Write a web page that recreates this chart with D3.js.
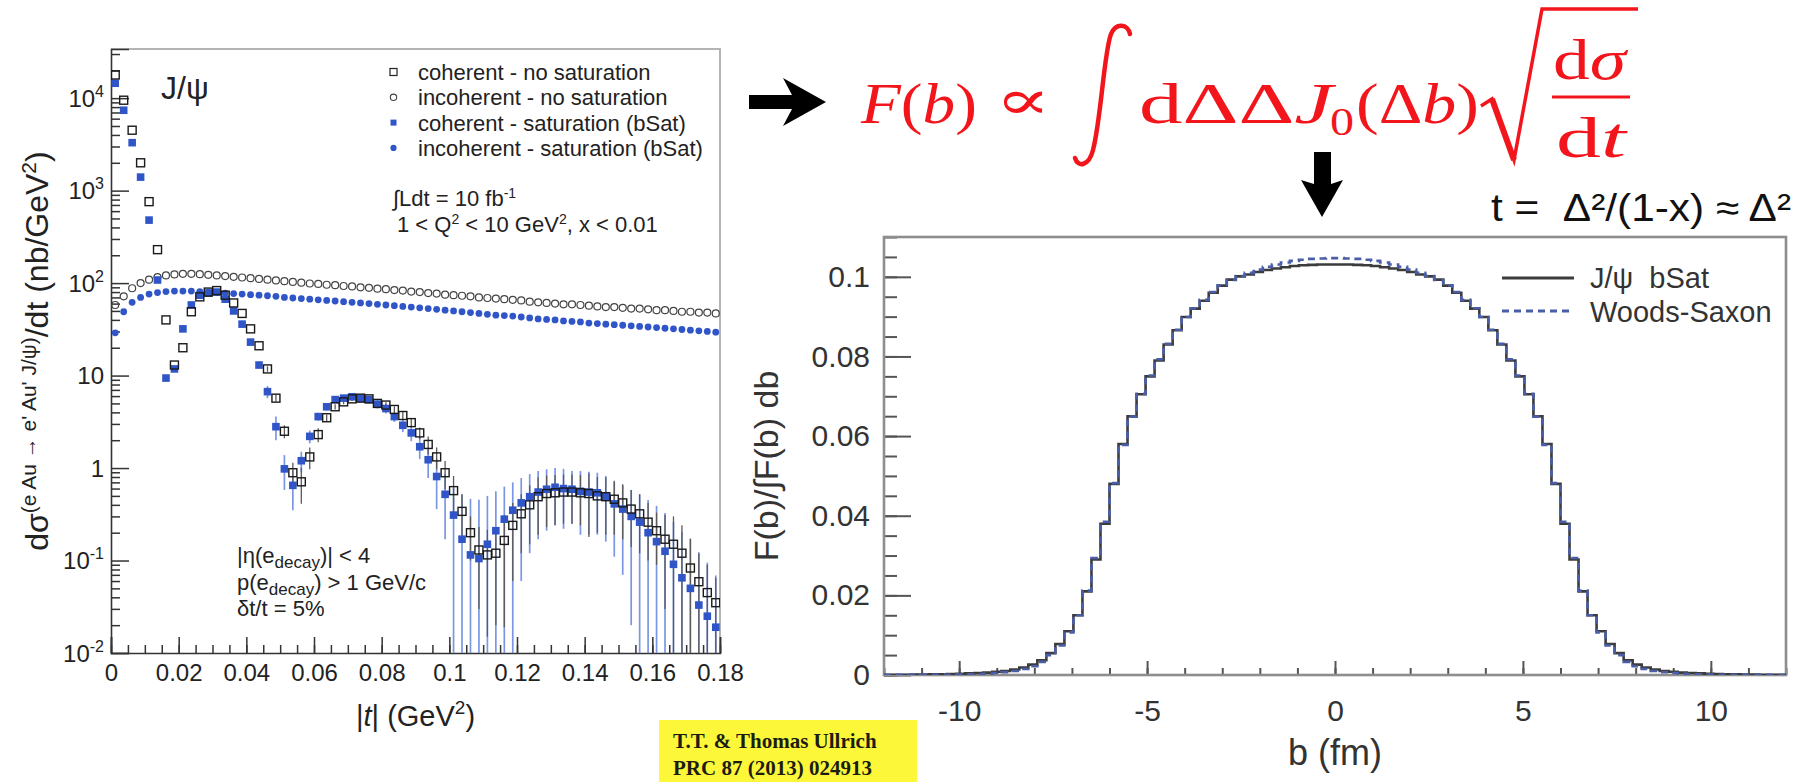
<!DOCTYPE html>
<html>
<head>
<meta charset="utf-8">
<script src="https://cdn.jsdelivr.net/npm/d3@7"></script>
<style>
  body { margin: 0; background: #fff; }
  svg { display: block; font-family: "Liberation Sans", Arial, Helvetica, sans-serif; }
</style>
</head>
<body>
<svg id="fig" width="1800" height="782"></svg>
<script>
// ---------- |t| spectrum, bins of 0.0025 GeV^2 starting at 0 ----------
const T_BIN = 0.0025;

const coherentNoSat = [
  17800, 9500, 4500, 2000, 760, 230, 40, 13, 20, 49,
  71, 80, 83, 74, 61, 47, 32, 21, 11.8, 5.7,
  2.5, 0.89, 0.71, 1.32, 2.3, 3.5, 4.6, 5.2, 5.6, 5.7,
  5.6, 5.0, 4.8, 4.3, 3.7, 3.1, 2.4, 1.8, 1.32, 0.89,
  0.57, 0.34, 0.20, 0.13, 0.115, 0.12, 0.165, 0.24, 0.32, 0.40,
  0.49, 0.53, 0.54, 0.55, 0.55, 0.54, 0.53, 0.50, 0.49, 0.46,
  0.42, 0.36, 0.32, 0.26, 0.21, 0.17, 0.15, 0.12, 0.083, 0.059,
  0.045, 0.035
];
const coherentNoSatErr = [
  0, 0, 0, 0, 0, 0, 0, 0, 0, 0,
  0, 0, 0, 0, 0, 0, 0, 0, 0.8, 0.5,
  0.4, 0.25, 0.3, 0.35, 0.4, 0.3, 0.3, 0.3, 0.3, 0.3,
  0.3, 0.3, 0.35, 0.35, 0.35, 0.35, 0.35, 0.4, 0.35, 0.3,
  0.25, 0.18, 0.1, 0.1, 0.1, 0.1, 0.146, 0.18, 0.2, 0.25,
  0.3, 0.3, 0.3, 0.3, 0.3, 0.3, 0.35, 0.3, 0.3, 0.27,
  0.25, 0.22, 0.2, 0.16, 0.12, 0.14, 0.15, 0.12, 0.09, 0.06,
  0.045, 0.03
];
const incoherentNoSat = [
  58, 72, 88, 100, 109, 116, 121, 124, 126, 126,
  125, 123, 121, 119, 117, 115, 113, 111, 109, 107,
  105, 103, 101, 99, 98, 96, 95, 93, 92, 90,
  89, 87, 86, 84, 83, 81, 80, 78, 77, 75,
  74, 73, 72, 70, 69, 68, 67, 66, 65, 63,
  62, 61, 60, 59, 59, 58, 57, 56, 55, 55,
  54, 53, 53, 52, 51, 51, 50, 49, 49, 48,
  48, 47
];
const coherentSat = [
  14500, 7400, 3300, 1400, 480, 108, 9.4, 11.8, 32, 58,
  74, 78, 80, 67, 50, 36, 23, 13, 6.7, 2.8,
  0.98, 0.65, 1.2, 2.2, 3.6, 4.6, 5.5, 5.7, 5.9, 5.7,
  5.5, 4.9, 4.4, 3.6, 2.9, 2.4, 1.7, 1.23, 0.81, 0.52,
  0.31, 0.17, 0.115, 0.105, 0.15, 0.21, 0.28, 0.35, 0.42, 0.49,
  0.55, 0.59, 0.62, 0.60, 0.59, 0.56, 0.55, 0.54, 0.49, 0.41,
  0.36, 0.30, 0.26, 0.20, 0.16, 0.126, 0.091, 0.065, 0.05, 0.033,
  0.025, 0.019
];
const coherentSatErr = [
  0, 0, 0, 0, 0, 0, 0, 0, 0, 0,
  0, 0, 0, 0, 0, 0, 0, 0, 1.0, 0.8,
  0.4, 0.3, 0.3, 0.35, 0.35, 0.4, 0.45, 0.5, 0.5, 0.5,
  0.5, 0.5, 0.5, 0.45, 0.45, 0.45, 0.45, 0.45, 0.45, 0.35,
  0.3, 0.35, 0.35, 0.35, 0.35, 0.35, 0.35, 0.35, 0.36, 0.37,
  0.38, 0.38, 0.38, 0.38, 0.34, 0.37, 0.36, 0.35, 0.33, 0.3,
  0.29, 0.28, 0.26, 0.25, 0.23, 0.2, 0.17, 0.14, 0.12, 0.09,
  0.07, 0.05
];
const incoherentSat = [
  29, 49, 62, 70, 76, 79, 81, 82, 82, 82,
  81, 80, 79, 78, 77, 76, 75, 74, 73, 72,
  70, 69, 68, 67, 66, 65, 64, 63, 62, 61,
  60, 59, 58, 57, 56, 55, 54, 53, 52, 51,
  50, 49, 48, 47, 46, 45, 44.5, 44, 43, 42,
  41, 40.5, 40, 39, 38.5, 38, 37, 36.5, 36, 35.5,
  35, 34.5, 34, 33.5, 33, 32.5, 32, 31.5, 31, 30.5,
  30, 29.5
];
const tTicks = [0, 0.02, 0.04, 0.06, 0.08, 0.1, 0.12, 0.14, 0.16, 0.18];
const decadeTicks = [1e-2, 1e-1, 1, 10, 1e2, 1e3, 1e4];
const decadeLabels = [["10", "-2"], ["10", "-1"], ["1", ""], ["10", ""], ["10", "2"], ["10", "3"], ["10", "4"]];

// ---------- transverse profile, bins of 0.24 fm from -12 fm ----------
const B_MIN = -12, B_BIN = 0.24;

const profileBSat = [
  0.00005, 0.00006, 0.00008, 0.0001, 0.00013, 0.00016, 0.0002, 0.00025, 0.0003, 0.0004,
  0.0005, 0.0006, 0.0008, 0.0010, 0.0014, 0.0019, 0.0026, 0.0037, 0.0055, 0.0078,
  0.0110, 0.0150, 0.0210, 0.0290, 0.0380, 0.0480, 0.0580, 0.0650, 0.0705, 0.0750,
  0.0790, 0.0830, 0.0866, 0.0899, 0.0920, 0.0940, 0.0960, 0.0978, 0.0993, 0.1001,
  0.1006, 0.1012, 0.1017, 0.1021, 0.1024, 0.1027, 0.1029, 0.1030, 0.1031, 0.1031,
  0.1031, 0.1031, 0.1030, 0.1029, 0.1027, 0.1024, 0.1021, 0.1017, 0.1012, 0.1006,
  0.1001, 0.0993, 0.0978, 0.0960, 0.0940, 0.0920, 0.0899, 0.0866, 0.0830, 0.0790,
  0.0750, 0.0705, 0.0650, 0.0580, 0.0480, 0.0380, 0.0290, 0.0210, 0.0150, 0.0110,
  0.0078, 0.0055, 0.0037, 0.0026, 0.0019, 0.0014, 0.0010, 0.0008, 0.0006, 0.0005,
  0.0004, 0.0003, 0.00025, 0.0002, 0.00016, 0.00013, 0.0001, 0.00008, 0.00006, 0.00005
];
const profileWoodsSaxon = [
  0.00001, 0.00002, 0.00002, 0.00003, 0.00004, 0.00005, 0.00006, 0.00008, 0.0001, 0.00015,
  0.0002, 0.0003, 0.0005, 0.0007, 0.0010, 0.0015, 0.0022, 0.0033, 0.0050, 0.0074,
  0.0107, 0.0150, 0.0212, 0.0294, 0.0385, 0.0482, 0.0578, 0.0649, 0.0706, 0.0752,
  0.0793, 0.0832, 0.0867, 0.0899, 0.0921, 0.0942, 0.0962, 0.0979, 0.0992, 0.1002,
  0.1010, 0.1018, 0.1025, 0.1031, 0.1036, 0.1040, 0.1043, 0.1045, 0.1046, 0.1047,
  0.1047, 0.1046, 0.1045, 0.1043, 0.1040, 0.1036, 0.1031, 0.1025, 0.1018, 0.1010,
  0.1002, 0.0992, 0.0979, 0.0962, 0.0942, 0.0921, 0.0899, 0.0867, 0.0832, 0.0793,
  0.0752, 0.0706, 0.0649, 0.0578, 0.0482, 0.0385, 0.0294, 0.0212, 0.0150, 0.0107,
  0.0074, 0.0050, 0.0033, 0.0022, 0.0015, 0.0010, 0.0007, 0.0005, 0.0003, 0.0002,
  0.00015, 0.0001, 0.00008, 0.00006, 0.00005, 0.00004, 0.00003, 0.00002, 0.00002, 0.00001
];
const bTicks = [-10, -5, 0, 5, 10];
const fTicks = [0, 0.02, 0.04, 0.06, 0.08, 0.1];

// ---------- setup ----------
const svg = d3.select("#fig");
const BLUE = "#2f55c8", BLUE_ERR = "#7b97e3";

// ================= left panel: d sigma / dt =================
const L = { left: 111, right: 720, top: 49, bottom: 653 };
const xT = d3.scaleLinear().domain([0, 0.18]).range([L.left, L.right]);
const yS = d3.scaleLog().domain([0.01, 3.4e4]).range([L.bottom, L.top]);
const tAt = i => T_BIN * (i + 0.5);

svg.append("clipPath").attr("id", "clipL")
  .append("rect").attr("x", L.left).attr("y", L.top)
  .attr("width", L.right - L.left).attr("height", L.bottom - L.top);

// frame
svg.append("path")
  .attr("d", `M${L.left},${L.top}H${L.right}V${L.bottom}`)
  .attr("fill", "none").attr("stroke", "#b4b4b4").attr("stroke-width", 2);

// x axis (ticks pointing inwards)
const xMinor = d3.range(0, 0.18001, 0.005);
svg.append("g").attr("transform", `translate(0,${L.bottom})`)
  .call(d3.axisBottom(xT).tickValues(xMinor).tickSize(-8).tickFormat(""))
  .call(g => g.select(".domain").remove())
  .selectAll("line").attr("stroke", "#333").attr("stroke-width", 1.5);
const gxL = svg.append("g").attr("transform", `translate(0,${L.bottom})`)
  .call(d3.axisBottom(xT).tickValues(tTicks).tickSize(-16).tickPadding(11)
    .tickFormat(v => String(+v.toFixed(2))));
gxL.select(".domain").attr("stroke", "#333").attr("stroke-width", 1.6);
gxL.selectAll("line").attr("stroke", "#333").attr("stroke-width", 1.5);
gxL.selectAll("text").attr("font-size", 24).attr("fill", "#222")
  .attr("font-family", "Liberation Sans, Arial, sans-serif");

// y axis (log)
const yMinor = [];
decadeTicks.forEach(d => { for (let m = 2; m <= 9; m++) { if (d * m <= 3.4e4) yMinor.push(d * m); } });
svg.append("g").attr("transform", `translate(${L.left},0)`)
  .call(d3.axisLeft(yS).tickValues(yMinor).tickSize(-9).tickFormat(""))
  .call(g => g.select(".domain").remove())
  .selectAll("line").attr("stroke", "#333").attr("stroke-width", 1.5);
const gyL = svg.append("g").attr("transform", `translate(${L.left},0)`)
  .call(d3.axisLeft(yS).tickValues(decadeTicks).tickSize(-18).tickPadding(9).tickFormat(""));
gyL.select(".domain").attr("stroke", "#333").attr("stroke-width", 1.6);
gyL.selectAll("line").attr("stroke", "#333").attr("stroke-width", 1.5);
gyL.selectAll(".tick").each(function (d, i) {
  const lab = decadeLabels[i];
  const t = d3.select(this).select("text").text(null)
    .attr("x", -7).attr("dy", null).attr("y", 8)
    .attr("font-size", 24).attr("fill", "#222").attr("text-anchor", "end")
    .attr("font-family", "Liberation Sans, Arial, sans-serif");
  t.append("tspan").text(lab[0]);
  if (lab[1]) t.append("tspan").attr("font-size", 16).attr("dy", -10).text(lab[1]);
});

// axis titles
svg.append("text").attr("transform", `translate(${(L.left + L.right) / 2},726)`)
  .attr("text-anchor", "middle").attr("font-size", 29).attr("fill", "#222")
  .call(t => {
    t.append("tspan").text("|");
    t.append("tspan").attr("font-style", "italic").text("t");
    t.append("tspan").text("| (GeV");
    t.append("tspan").attr("font-size", 19).attr("dy", -12).text("2");
    t.append("tspan").attr("dy", 12).text(")");
  });
svg.append("text").attr("transform", `translate(48,${(L.top + L.bottom) / 2}) rotate(-90)`)
  .attr("text-anchor", "middle").attr("font-size", 32).attr("fill", "#222")
  .call(t => {
    t.append("tspan").text("dσ");
    t.append("tspan").attr("font-size", 21).attr("dy", -12).text("(e Au → e' Au' J/ψ)");
    t.append("tspan").attr("dy", 12).text("/dt (nb/GeV");
    t.append("tspan").attr("font-size", 21).attr("dy", -12).text("2");
    t.append("tspan").attr("dy", 12).text(")");
  });

// error bars
const plotL = svg.append("g").attr("clip-path", "url(#clipL)");
function errorBars(vals, errs, color, width) {
  plotL.append("g").selectAll("line")
    .data(vals.map((v, i) => ({ i, v, e: errs[i] })).filter(d => d.e > 0))
    .join("line")
    .attr("x1", d => xT(tAt(d.i))).attr("x2", d => xT(tAt(d.i)))
    .attr("y1", d => yS(d.v + d.e))
    .attr("y2", d => yS(Math.max(d.v - d.e, 0.01)))
    .attr("stroke", color).attr("stroke-width", width);
}
errorBars(coherentSat, coherentSatErr, BLUE_ERR, 1.7);
errorBars(coherentNoSat, coherentNoSatErr, "#5a5a5a", 1.3);

// markers
plotL.append("g").selectAll("circle").data(incoherentSat).join("circle")
  .attr("cx", (d, i) => xT(tAt(i))).attr("cy", d => yS(d)).attr("r", 3.4)
  .attr("fill", BLUE);
plotL.append("g").selectAll("circle").data(incoherentNoSat).join("circle")
  .attr("cx", (d, i) => xT(tAt(i))).attr("cy", d => yS(d)).attr("r", 3.5)
  .attr("fill", "none").attr("stroke", "#444").attr("stroke-width", 1.2);
plotL.append("g").selectAll("rect").data(coherentSat).join("rect")
  .attr("x", (d, i) => xT(tAt(i)) - 3.8).attr("y", d => yS(d) - 3.8)
  .attr("width", 7.6).attr("height", 7.6).attr("fill", BLUE);
plotL.append("g").selectAll("rect").data(coherentNoSat).join("rect")
  .attr("x", (d, i) => xT(tAt(i)) - 4).attr("y", d => yS(d) - 4)
  .attr("width", 8).attr("height", 8)
  .attr("fill", "none").attr("stroke", "#1a1a1a").attr("stroke-width", 1.4);

// legend and labels
const legL = [
  { label: "coherent - no saturation", kind: "sqOpen" },
  { label: "incoherent - no saturation", kind: "ciOpen" },
  { label: "coherent - saturation (bSat)", kind: "sqFill" },
  { label: "incoherent - saturation (bSat)", kind: "ciFill" }
];
const legG = svg.append("g").attr("font-size", 22).attr("fill", "#222");
legL.forEach((d, i) => {
  const y = 72 + i * 25.3;
  if (d.kind === "sqOpen") legG.append("rect").attr("x", 390).attr("y", y - 3.5).attr("width", 7).attr("height", 7)
    .attr("fill", "none").attr("stroke", "#222").attr("stroke-width", 1.2);
  if (d.kind === "ciOpen") legG.append("circle").attr("cx", 393.5).attr("cy", y).attr("r", 3.2)
    .attr("fill", "none").attr("stroke", "#444").attr("stroke-width", 1.1);
  if (d.kind === "sqFill") legG.append("rect").attr("x", 390.5).attr("y", y - 3).attr("width", 6).attr("height", 6).attr("fill", BLUE);
  if (d.kind === "ciFill") legG.append("circle").attr("cx", 393.5).attr("cy", y).attr("r", 3.1).attr("fill", BLUE);
  legG.append("text").attr("x", 418).attr("y", y + 8).text(d.label);
});
legG.append("text").attr("x", 393).attr("y", 206).call(t => {
  t.append("tspan").text("∫Ldt = 10 fb");
  t.append("tspan").attr("font-size", 14).attr("dy", -8).text("-1");
});
legG.append("text").attr("x", 397).attr("y", 232).call(t => {
  t.append("tspan").text("1 < Q");
  t.append("tspan").attr("font-size", 14).attr("dy", -8).text("2");
  t.append("tspan").attr("dy", 8).text(" < 10 GeV");
  t.append("tspan").attr("font-size", 14).attr("dy", -8).text("2");
  t.append("tspan").attr("dy", 8).text(", x < 0.01");
});
svg.append("text").attr("x", 161).attr("y", 99).attr("font-size", 32).attr("fill", "#222").text("J/ψ");

const cutG = svg.append("g").attr("font-size", 22).attr("fill", "#222");
cutG.append("text").attr("x", 237).attr("y", 563).call(t => {
  t.append("tspan").text("|η(e");
  t.append("tspan").attr("font-size", 17).attr("dy", 5).text("decay");
  t.append("tspan").attr("dy", -5).text(")| < 4");
});
cutG.append("text").attr("x", 237).attr("y", 590).call(t => {
  t.append("tspan").text("p(e");
  t.append("tspan").attr("font-size", 17).attr("dy", 5).text("decay");
  t.append("tspan").attr("dy", -5).text(") > 1 GeV/c");
});
cutG.append("text").attr("x", 237).attr("y", 616).text("δt/t = 5%");

// ================= right panel: F(b) =================
const R = { left: 884, right: 1786, top: 237, bottom: 675 };
const xB = d3.scaleLinear().domain([-12, 12]).range([R.left, R.right]);
const yF = d3.scaleLinear().domain([0, 0.11]).range([R.bottom, R.top]);

svg.append("clipPath").attr("id", "clipR")
  .append("rect").attr("x", R.left).attr("y", R.top)
  .attr("width", R.right - R.left).attr("height", R.bottom - R.top);

const bMinor = d3.range(-12, 12.001, 1);
const fMinor = d3.range(0, 0.1101, 0.005);
svg.append("g").attr("transform", `translate(0,${R.bottom})`)
  .call(d3.axisBottom(xB).tickValues(bMinor).tickSize(-7).tickFormat(""))
  .call(g => g.select(".domain").remove())
  .selectAll("line").attr("stroke", "#555").attr("stroke-width", 2);
const gxR = svg.append("g").attr("transform", `translate(0,${R.bottom})`)
  .call(d3.axisBottom(xB).tickValues(bTicks).tickSize(-14).tickPadding(25).tickFormat(d3.format("d")));
gxR.select(".domain").remove();
gxR.selectAll("line").attr("stroke", "#555").attr("stroke-width", 2);
gxR.selectAll("text").attr("font-size", 30).attr("fill", "#333")
  .attr("font-family", "Liberation Sans, Arial, sans-serif")
  .text(d => d < 0 ? "-" + Math.abs(d) : String(d));

svg.append("g").attr("transform", `translate(${R.left},0)`)
  .call(d3.axisLeft(yF).tickValues(fMinor).tickSize(-13).tickFormat(""))
  .call(g => g.select(".domain").remove())
  .selectAll("line").attr("stroke", "#555").attr("stroke-width", 2);
const gyR = svg.append("g").attr("transform", `translate(${R.left},0)`)
  .call(d3.axisLeft(yF).tickValues(fTicks).tickSize(-27).tickPadding(14)
    .tickFormat(v => String(+v.toFixed(2))));
gyR.select(".domain").remove();
gyR.selectAll("line").attr("stroke", "#555").attr("stroke-width", 2);
gyR.selectAll("text").attr("font-size", 30).attr("fill", "#333")
  .attr("font-family", "Liberation Sans, Arial, sans-serif");

svg.append("rect").attr("x", R.left).attr("y", R.top)
  .attr("width", R.right - R.left).attr("height", R.bottom - R.top)
  .attr("fill", "none").attr("stroke", "#8e8e8e").attr("stroke-width", 2.6);

function stepPath(values) {
  const pts = values.map((v, i) => [B_MIN + i * B_BIN, v]);
  pts.push([B_MIN + values.length * B_BIN, values[values.length - 1]]);
  return d3.line().x(d => xB(d[0])).y(d => yF(d[1])).curve(d3.curveStepAfter)(pts);
}
const plotR = svg.append("g").attr("clip-path", "url(#clipR)");
plotR.append("path").attr("d", stepPath(profileBSat))
  .attr("fill", "none").attr("stroke", "#3c3c3c").attr("stroke-width", 2.6);
plotR.append("path").attr("d", stepPath(profileWoodsSaxon))
  .attr("fill", "none").attr("stroke", "#4a5ea8").attr("stroke-width", 2.6)
  .attr("stroke-dasharray", "7,5");

// legend
const legR = svg.append("g").attr("font-size", 29).attr("fill", "#333");
legR.append("line").attr("x1", 1502).attr("x2", 1574).attr("y1", 278).attr("y2", 278)
  .attr("stroke", "#3c3c3c").attr("stroke-width", 3);
legR.append("line").attr("x1", 1502).attr("x2", 1574).attr("y1", 311).attr("y2", 311)
  .attr("stroke", "#4a5ea8").attr("stroke-width", 3).attr("stroke-dasharray", "7,5");
legR.append("text").attr("x", 1590).attr("y", 288).text("J/ψ\u00a0 bSat");
legR.append("text").attr("x", 1590).attr("y", 322).text("Woods-Saxon");

// axis titles
svg.append("text").attr("x", (R.left + R.right) / 2).attr("y", 765)
  .attr("text-anchor", "middle").attr("font-size", 36).attr("fill", "#333").text("b (fm)");
svg.append("text").attr("transform", `translate(778,${(R.top + R.bottom) / 2 + 10}) rotate(-90)`)
  .attr("text-anchor", "middle").attr("font-size", 34).attr("fill", "#333")
  .text("F(b)/∫F(b) db");

// ================= formula and arrows =================
const RED = "#f2161c";
const fm = svg.append("g").attr("fill", RED)
  .attr("font-family", "Liberation Serif, 'DejaVu Serif', serif").attr("font-size", 56);
fm.append("text").attr("x", 861).attr("y", 123).attr("textLength", 116).attr("lengthAdjust", "spacingAndGlyphs")
  .call(t => {
    t.append("tspan").attr("font-style", "italic").text("F");
    t.append("tspan").text("(");
    t.append("tspan").attr("font-style", "italic").text("b");
    t.append("tspan").text(")");
  });
fm.append("text").attr("x", 995).attr("y", 119).attr("textLength", 56).attr("lengthAdjust", "spacingAndGlyphs").text("∝");
// integral sign
fm.append("path")
  .attr("d", "M1130,34 C1128,24 1116,22 1111,34 C1104,52 1101,120 1093,150 C1089,166 1078,168 1075,158")
  .attr("fill", "none").attr("stroke", RED).attr("stroke-width", 4.5).attr("stroke-linecap", "round");
fm.append("text").attr("x", 1139).attr("y", 123).attr("textLength", 194).attr("lengthAdjust", "spacingAndGlyphs")
  .call(t => {
    t.append("tspan").text("dΔΔ");
    t.append("tspan").attr("font-style", "italic").text("J");
  });
fm.append("text").attr("x", 1330).attr("y", 135).attr("font-size", 40).attr("textLength", 24)
  .attr("lengthAdjust", "spacingAndGlyphs").text("0");
fm.append("text").attr("x", 1356).attr("y", 123).attr("textLength", 123).attr("lengthAdjust", "spacingAndGlyphs")
  .call(t => {
    t.append("tspan").text("(Δ");
    t.append("tspan").attr("font-style", "italic").text("b");
    t.append("tspan").text(")");
  });
// square root with fraction
fm.append("path").attr("d", "M1481,106 L1492,99 L1514,160 L1542,9 L1638,9")
  .attr("fill", "none").attr("stroke", RED).attr("stroke-width", 3.5).attr("stroke-linejoin", "miter");
fm.append("path").attr("d", "M1492,99 L1514,160").attr("stroke", RED).attr("stroke-width", 6);
fm.append("text").attr("x", 1553).attr("y", 79).attr("font-size", 58).attr("textLength", 73).attr("lengthAdjust", "spacingAndGlyphs")
  .call(t => {
    t.append("tspan").text("d");
    t.append("tspan").attr("font-style", "italic").text("σ");
  });
fm.append("line").attr("x1", 1552).attr("x2", 1630).attr("y1", 97).attr("y2", 97)
  .attr("stroke", RED).attr("stroke-width", 3);
fm.append("text").attr("x", 1556).attr("y", 157).attr("font-size", 58).attr("textLength", 70).attr("lengthAdjust", "spacingAndGlyphs")
  .call(t => {
    t.append("tspan").text("d");
    t.append("tspan").attr("font-style", "italic").text("t");
  });

// arrows
svg.append("path")
  .attr("d", "M749,95 L792,95 L783,78 L826,102 L783,126 L792,109 L749,109 Z")
  .attr("fill", "#000");
svg.append("path")
  .attr("d", "M1314,152 L1331,152 L1331,184 L1343,180 L1322,217 L1301,180 L1314,184 Z")
  .attr("fill", "#000");

svg.append("text").attr("x", 1491).attr("y", 221).attr("font-size", 38).attr("fill", "#111")
  .attr("textLength", 300).attr("lengthAdjust", "spacingAndGlyphs")
  .text("t =\u00a0 Δ²/(1-x) ≈ Δ²");

// citation box
svg.append("rect").attr("x", 659).attr("y", 720).attr("width", 258).attr("height", 62).attr("fill", "#fdf73a");
const cit = svg.append("g").attr("font-family", "Liberation Serif, 'Times New Roman', serif")
  .attr("font-weight", "bold").attr("font-size", 21).attr("fill", "#1c1c10");
cit.append("text").attr("x", 673).attr("y", 748).text("T.T. & Thomas Ullrich");
cit.append("text").attr("x", 673).attr("y", 775).text("PRC 87 (2013) 024913");
</script>
</body>
</html>
